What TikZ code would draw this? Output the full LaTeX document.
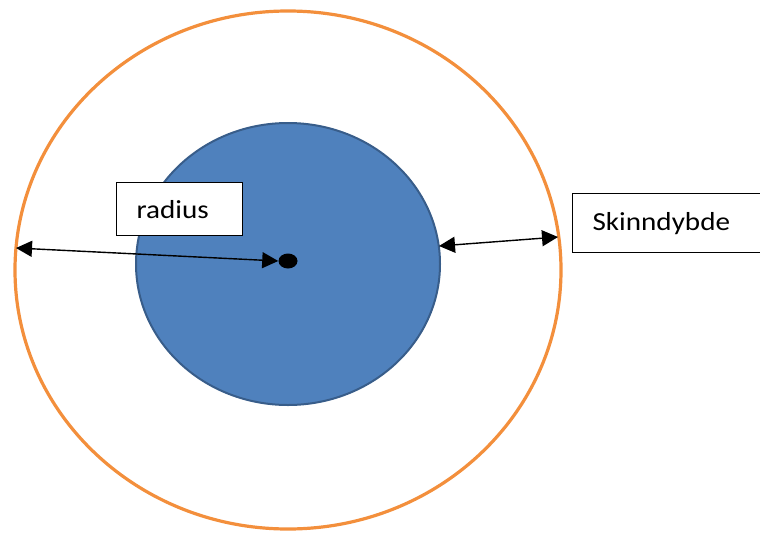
\documentclass[tikz,border=0pt]{standalone}
\usepackage{fontspec}
\setmainfont[FakeStretch=1.12]{Carlito}
\usepackage{tikz}
\usetikzlibrary{arrows.meta,positioning,shapes.geometric}
\definecolor{ringorange}{RGB}{243,143,60}
\definecolor{coreblue}{RGB}{79,129,189}
\definecolor{coreline}{RGB}{56,93,138}

\begin{document}
\begin{tikzpicture}[x=0.25mm,y=-0.25mm,
	dimline/.style={line width=0.35mm,{Triangle[length=4mm,width=4mm]}-{Triangle[length=4mm,width=4mm]}},
	labelbox/.style={draw,line width=0.3mm,fill=white,anchor=north west,align=left,inner xsep=5mm,font=\fontsize{18.5}{22}\selectfont}]
				 %\draw[color=gray,step=10,help lines,opacity=0.3] (0,0) grid (760,532); %help grids
				 \useasboundingbox (0,0) rectangle (760,532);
				 \draw[ringorange,line width=0.8mm] (288,270) ellipse [x radius=273,y radius=259];
				 \draw[fill=coreblue,draw=coreline,line width=0.5mm] (288,264) ellipse [x radius=152,y radius=141];
				 \node (centre) [ellipse,fill=black,inner sep=0pt,minimum width=4.75mm,minimum height=3.75mm] at (288,261) {};
				 \node (radiusbox) [labelbox,text width=21.5mm,minimum height=13.25mm] at (116,182) {radius};
				 \node (skinbox) [labelbox,text width=44.5mm,minimum height=14.75mm] at (572,193) {Skinndybde};
				 \coordinate (ringleft) at (16,248);
				 \coordinate (coreright) at (439,246);
				 \coordinate (ringright) at (558,237);
				 \draw[dimline] (ringleft)--(centre.west);
				 \draw[dimline] (coreright)--(ringright);
\end{tikzpicture}
\end{document}
